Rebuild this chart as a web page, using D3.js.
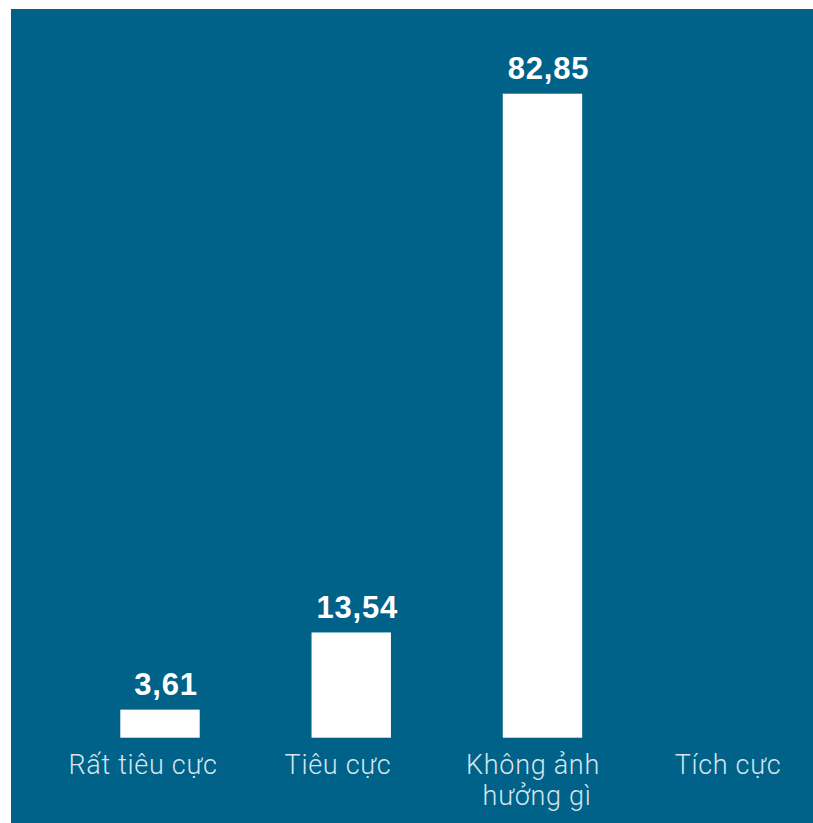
<!DOCTYPE html>
<html>
<head>
<meta charset="utf-8">
<script src="https://cdn.jsdelivr.net/npm/d3@7"></script>
<style>
  html, body { margin: 0; padding: 0; background: #ffffff; }
  svg { display: block; }
</style>
</head>
<body>
<svg id="chart" width="813" height="823"></svg>
<script>
const categories = ["Rất tiêu cực", "Tiêu cực", "Không ảnh hưởng gì", "Tích cực"];
const labelLines = [["Rất tiêu cực"], ["Tiêu cực"], ["Không ảnh", "hưởng gì"], ["Tích cực"]];
const values = [3.61, 13.54, 82.85, null];
const valueLabels = ["3,61", "13,54", "82,85", ""];

const W = 813, H = 823;
const svg = d3.select("#chart");

svg.append("rect")
  .attr("x", 11).attr("y", 9)
  .attr("width", W - 11).attr("height", H - 9)
  .attr("fill", "#006289");

const baseline = 737.7;
const y = d3.scaleLinear().domain([0, 82.85]).range([baseline, 93.7]);
const xBar = d3.scalePoint().domain(categories).range([160, 733.7]);
const xLabel = d3.scalePoint().domain(categories).range([143, 728]);
const barW = 79.4;

const data = categories.map((c, i) => ({ c, v: values[i], t: valueLabels[i], lines: labelLines[i] }));

svg.selectAll("rect.bar")
  .data(data.filter(d => d.v != null))
  .join("rect")
  .attr("class", "bar")
  .attr("x", d => xBar(d.c) - barW / 2)
  .attr("y", d => y(d.v))
  .attr("width", barW)
  .attr("height", d => baseline - y(d.v))
  .attr("fill", "#ffffff");

svg.selectAll("text.val")
  .data(data.filter(d => d.v != null))
  .join("text")
  .attr("class", "val")
  .attr("x", d => xBar(d.c) + 6)
  .attr("y", d => y(d.v) - 14.5)
  .attr("text-anchor", "middle")
  .attr("font-family", "Liberation Sans, Arial, sans-serif")
  .attr("font-weight", "bold")
  .attr("font-size", 31)
  .attr("letter-spacing", 0.8)
  .attr("fill", "#ffffff")
  .text(d => d.t);

const cat = svg.selectAll("text.cat")
  .data(data)
  .join("text")
  .attr("class", "cat")
  .attr("x", d => xLabel(d.c))
  .attr("y", 773.5)
  .attr("text-anchor", "middle")
  .attr("font-family", "Roboto, 'Liberation Sans', sans-serif")
  .attr("font-weight", 300)
  .attr("font-size", 27)
  .attr("letter-spacing", 0.7)
  .attr("fill", "#d6e5ed");

cat.selectAll("tspan")
  .data(d => d.lines.map((l, i) => ({ l, i, x: xLabel(d.c) })))
  .join("tspan")
  .attr("x", t => t.x + (t.i > 0 ? 4 : 0))
  .attr("dy", t => t.i === 0 ? 0 : 31)
  .text(t => t.l);
</script>
</body>
</html>
